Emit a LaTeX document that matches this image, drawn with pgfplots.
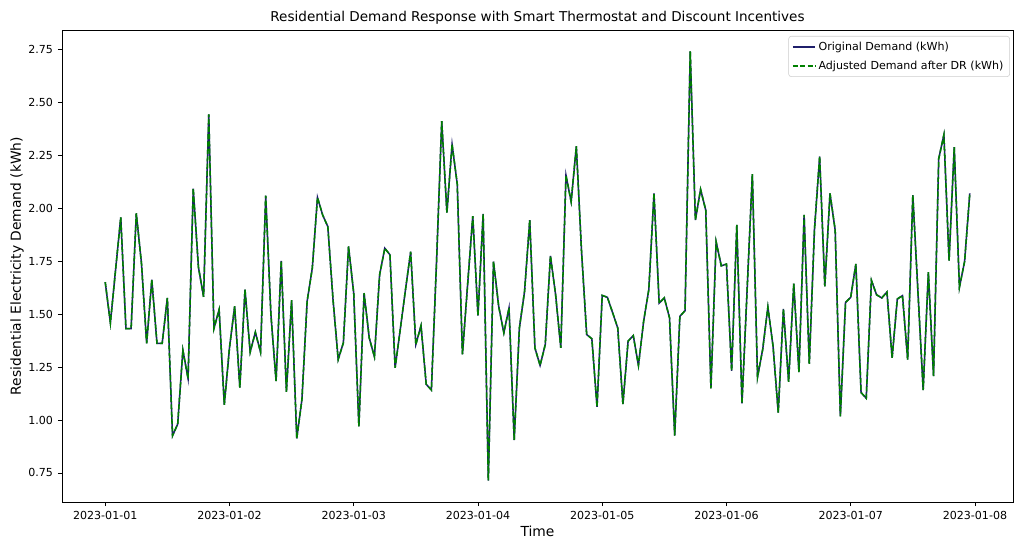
\documentclass[border=0pt]{standalone}
\usepackage{fontspec}
\setmainfont{DejaVu Sans}
\usepackage{pgfplots}
\usepackage{pgfplotstable}
\pgfplotsset{compat=1.18}
\pgfplotsset{legend image code/.code={\draw[#1] (0bp,0bp) -- (16bp,0bp);}}
\definecolor{orignavy}{HTML}{1F1F6B}
\definecolor{adjgreen}{HTML}{008000}
\pgfplotstableread{
h v
0 1.652
1 1.459
2 1.71
3 1.958
4 1.432
5 1.432
6 1.977
7 1.741
8 1.362
9 1.663
10 1.362
11 1.362
12 1.577
13 0.926
14 0.981
15 1.330
16 1.196
17 2.094
18 1.723
19 1.582
20 2.444
21 1.432
22 1.522
23 1.072
24 1.341
25 1.538
26 1.153
27 1.616
28 1.321
29 1.415
30 1.321
31 2.060
32 1.50
33 1.184
34 1.752
35 1.133
36 1.566
37 0.913
38 1.098
39 1.561
40 1.718
41 2.052
42 1.969
43 1.914
44 1.57
45 1.286
46 1.365
47 1.820
48 1.600
49 0.970
50 1.600
51 1.388
52 1.299
53 1.686
54 1.812
55 1.781
56 1.247
57 1.43
58 1.616
59 1.796
60 1.357
61 1.446
62 1.169
63 1.142
64 1.75
65 2.413
66 1.980
67 2.303
68 2.115
69 1.310
70 1.64
71 1.964
72 1.494
73 1.974
74 0.714
75 1.749
76 1.538
77 1.412
78 1.530
79 0.905
80 1.435
81 1.608
82 1.945
83 1.341
84 1.258
85 1.357
86 1.776
87 1.592
88 1.341
89 2.157
90 2.032
91 2.294
92 1.80
93 1.404
94 1.384
95 1.062
96 1.589
97 1.580
98 1.508
99 1.435
100 1.075
101 1.373
102 1.399
103 1.258
104 1.467
105 1.616
106 2.071
107 1.553
108 1.577
109 1.483
110 0.926
111 1.490
112 1.517
113 2.742
114 1.945
115 2.090
116 1.992
117 1.150
118 1.843
119 1.729
120 1.737
121 1.232
122 1.922
123 1.079
124 1.62
125 2.162
126 1.203
127 1.334
128 1.534
129 1.349
130 1.035
131 1.525
132 1.181
133 1.644
134 1.227
135 1.969
136 1.266
137 1.90
138 2.246
139 1.632
140 2.071
141 1.898
142 1.017
143 1.556
144 1.580
145 1.738
146 1.130
147 1.103
148 1.660
149 1.592
150 1.577
151 1.605
152 1.294
153 1.572
154 1.588
155 1.286
156 2.063
157 1.60
158 1.142
159 1.699
160 1.208
161 2.235
162 2.348
163 1.754
164 2.290
165 1.627
166 1.749
167 2.071
}\demand
\begin{document}
\begin{tikzpicture}
\path[use as bounding box] (-44.64bp,-25.92bp) rectangle (685.44bp,361.44bp);
\begin{axis}[
  at={(0,0)}, anchor=south west,
  scale only axis,
  width=684.72bp, height=339.84bp,
  xmin=-8.35, xmax=175.35,
  ymin=0.6126, ymax=2.8434,
  xtick={0,24,48,72,96,120,144,168},
  xticklabels={2023-01-01,2023-01-02,2023-01-03,2023-01-04,2023-01-05,2023-01-06,2023-01-07,2023-01-08},
  ytick={0.75,1.00,1.25,1.50,1.75,2.00,2.25,2.50,2.75},
  yticklabel style={/pgf/number format/.cd,fixed,fixed zerofill,precision=2},
  /pgf/number format/assume math mode=true,
  tick align=outside, tick pos=left,
  major tick length=3bp,
  every tick/.style={black, line width=0.6bp},
  axis line style={line width=0.6bp},
  tick label style={font=\fontsize{8.0}{9.5}\selectfont},
  xticklabel style={yshift=-0.5bp},
  xlabel={Time}, ylabel={Residential Electricity Demand (kWh)},
  label style={font=\fontsize{8.1}{10}\selectfont},
  every axis x label/.style={at={(axis description cs:0.5,-0.0614)}, anchor=center},
  every axis y label/.style={at={(axis description cs:-0.0473,0.5)}, rotate=90, anchor=center},
  title={Residential Demand Response with Smart Thermostat and Discount Incentives},
  every axis title/.style={at={(axis description cs:0.5,1.0254)}, anchor=center},
  title style={font=\fontsize{9.8}{12}\selectfont},
  legend cell align=left,
  legend style={font=\fontsize{8.0}{9.5}\selectfont, draw=black!20, rounded corners=2bp, fill=white, fill opacity=0.8, text opacity=1, draw opacity=1, at={(0.9968,0.9873)}, anchor=north east, inner xsep=2.5bp, inner ysep=2bp, row sep=2bp},
]
\addplot[orignavy, line width=1.1bp, solid] table[x=h,y=v] {\demand};
\addlegendentry{Original Demand (kWh)}
\addplot[adjgreen, line width=1.1bp, dash pattern=on 3.7bp off 1.6bp] table[x=h,y=v] {\demand};
\addlegendentry{Adjusted Demand after DR (kWh)}
\end{axis}
\end{tikzpicture}
\end{document}
